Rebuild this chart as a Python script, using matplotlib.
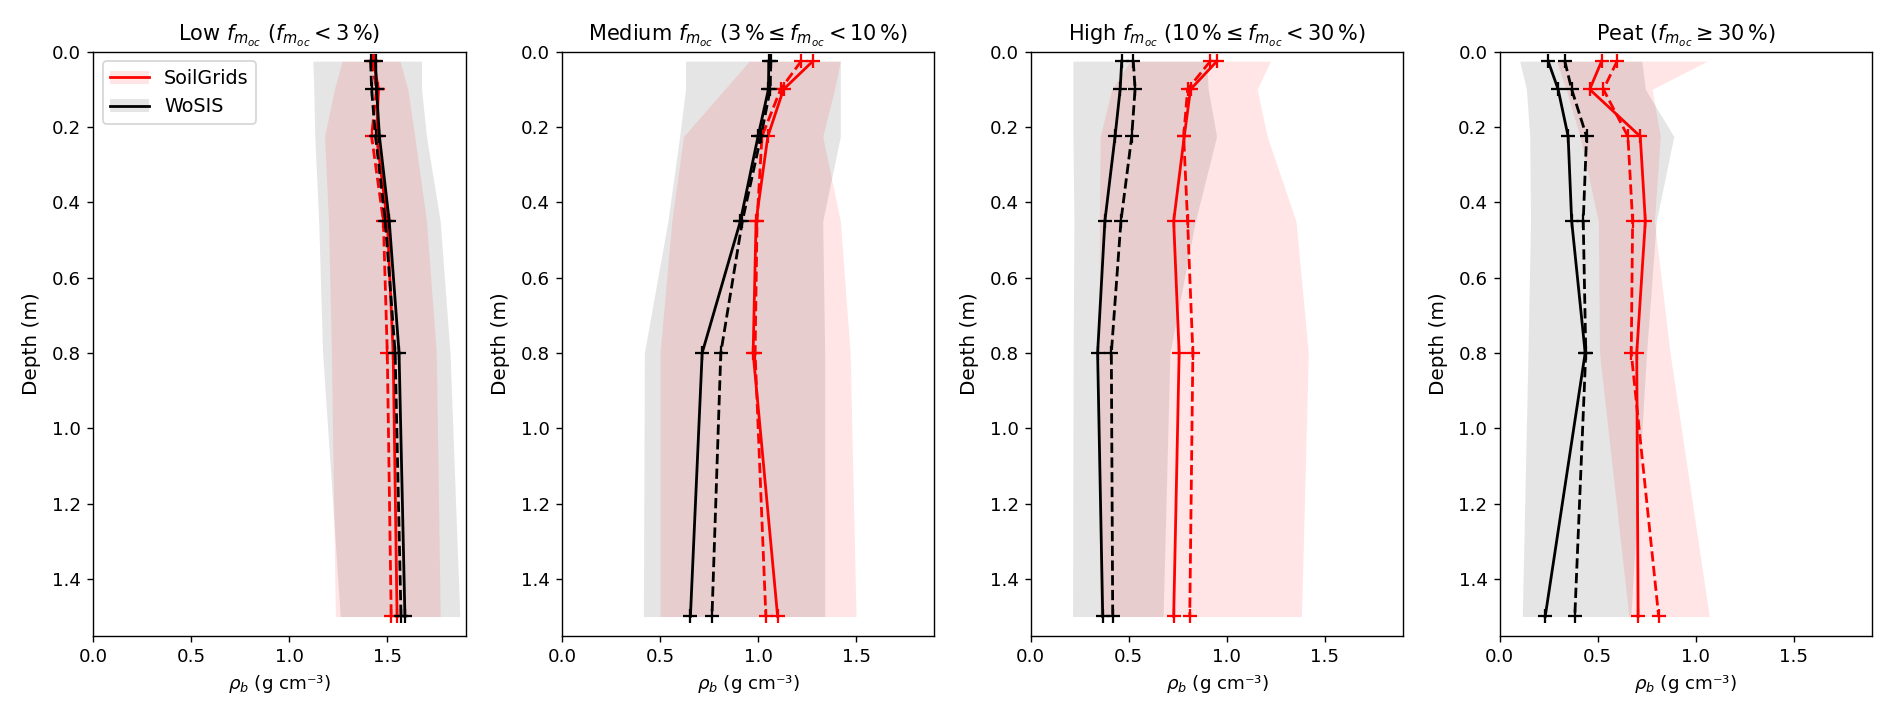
import matplotlib
matplotlib.use('Agg')
import matplotlib.pyplot as plt
from matplotlib.patches import Patch

# depth of the SoilGrids layer midpoints (m)
depth = [0.025, 0.1, 0.225, 0.45, 0.8, 1.5]

# Low f_moc
sg_low_solid = [1.43, 1.455, 1.445, 1.50, 1.53, 1.55]
sg_low_dashed = [1.42, 1.445, 1.42, 1.48, 1.50, 1.52]
wo_low_solid = [1.44, 1.445, 1.46, 1.51, 1.56, 1.59]
wo_low_dashed = [1.415, 1.42, 1.44, 1.49, 1.54, 1.57]
sg_low_lo = [1.27, 1.23, 1.18, 1.20, 1.215, 1.235]
sg_low_hi = [1.565, 1.605, 1.64, 1.70, 1.75, 1.77]
wo_low_lo = [1.12, 1.125, 1.13, 1.15, 1.17, 1.26]
wo_low_hi = [1.675, 1.675, 1.70, 1.77, 1.82, 1.87]

# Medium f_moc
sg_med_solid = [1.28, 1.13, 1.05, 0.99, 0.975, 1.10]
sg_med_dashed = [1.22, 1.115, 1.02, 0.995, 0.985, 1.04]
wo_med_solid = [1.055, 1.053, 1.0, 0.91, 0.715, 0.655]
wo_med_dashed = [1.065, 1.062, 1.015, 0.92, 0.81, 0.765]
sg_med_lo = [0.955, 0.83, 0.62, 0.56, 0.50, 0.50]
sg_med_hi = [1.42, 1.39, 1.33, 1.42, 1.47, 1.50]
wo_med_lo = [0.63, 0.63, 0.60, 0.54, 0.42, 0.415]
wo_med_hi = [1.42, 1.42, 1.42, 1.33, 1.34, 1.34]

# High f_moc
sg_high_solid = [0.95, 0.815, 0.783, 0.729, 0.757, 0.729]
sg_high_dashed = [0.916, 0.80, 0.78, 0.80, 0.827, 0.811]
wo_high_solid = [0.464, 0.456, 0.43, 0.378, 0.341, 0.367]
wo_high_dashed = [0.523, 0.532, 0.515, 0.46, 0.411, 0.418]
sg_high_lo = [0.507, 0.413, 0.354, 0.35, 0.35, 0.35]
sg_high_hi = [1.223, 1.155, 1.206, 1.353, 1.416, 1.381]
wo_high_lo = [0.215, 0.215, 0.215, 0.22, 0.216, 0.213]
wo_high_hi = [0.897, 0.905, 0.948, 0.84, 0.71, 0.675]

# Peat
sg_peat_solid = [0.521, 0.46, 0.718, 0.744, 0.70, 0.707]
sg_peat_dashed = [0.60, 0.53, 0.655, 0.679, 0.672, 0.812]
wo_peat_solid = [0.248, 0.299, 0.35, 0.368, 0.437, 0.233]
wo_peat_dashed = [0.333, 0.368, 0.444, 0.427, 0.44, 0.384]
sg_peat_lo = [0.29, 0.34, 0.41, 0.504, 0.51, 0.66]
sg_peat_hi = [1.06, 0.778, 0.82, 0.79, 0.87, 1.07]
wo_peat_lo = [0.103, 0.137, 0.154, 0.158, 0.145, 0.116]
wo_peat_hi = [0.726, 0.744, 0.889, 0.80, 0.75, 0.67]

titles = [
    r'Low $f_{m_{oc}}$ ($f_{m_{oc}} < 3\,\%$)',
    r'Medium $f_{m_{oc}}$ ($3\,\% \leq f_{m_{oc}} < 10\,\%$)',
    r'High $f_{m_{oc}}$ ($10\,\% \leq f_{m_{oc}} < 30\,\%$)',
    r'Peat ($f_{m_{oc}} \geq 30\,\%$)',
]


def draw_panel(ax, sg, wo):
    sg_solid, sg_dashed, sg_lo, sg_hi = sg
    wo_solid, wo_dashed, wo_lo, wo_hi = wo
    ax.fill_betweenx(depth, wo_lo, wo_hi, color='grey', alpha=0.2, lw=0)
    ax.fill_betweenx(depth, sg_lo, sg_hi, color='red', alpha=0.1, lw=0)
    kw = dict(marker='+', ms=8, mew=1.3, lw=1.6)
    ax.plot(sg_solid, depth, '-', color='red', **kw)
    ax.plot(sg_dashed, depth, '--', color='red', **kw)
    ax.plot(wo_solid, depth, '-', color='black', **kw)
    ax.plot(wo_dashed, depth, '--', color='black', **kw)
    ax.set_xlim(0, 1.9)
    ax.set_ylim(1.551, 0)
    ax.set_xticks([0.0, 0.5, 1.0, 1.5])
    ax.set_yticks([0.0, 0.2, 0.4, 0.6, 0.8, 1.0, 1.2, 1.4])
    ax.tick_params(labelsize=10.5)
    ax.set_ylabel('Depth (m)', fontsize=11.5, labelpad=6)
    ax.set_xlabel(r'$\rho_b$ (g cm⁻³)', fontsize=10.5)


def main():
    plt.rcParams['font.size'] = 10
    fig, axes = plt.subplots(1, 4, figsize=(15.136, 5.736), dpi=125)
    fig.subplots_adjust(left=0.0493, right=0.9894, top=0.9279, bottom=0.1134, wspace=0.2587)

    panels = [
        ((sg_low_solid, sg_low_dashed, sg_low_lo, sg_low_hi),
         (wo_low_solid, wo_low_dashed, wo_low_lo, wo_low_hi)),
        ((sg_med_solid, sg_med_dashed, sg_med_lo, sg_med_hi),
         (wo_med_solid, wo_med_dashed, wo_med_lo, wo_med_hi)),
        ((sg_high_solid, sg_high_dashed, sg_high_lo, sg_high_hi),
         (wo_high_solid, wo_high_dashed, wo_high_lo, wo_high_hi)),
        ((sg_peat_solid, sg_peat_dashed, sg_peat_lo, sg_peat_hi),
         (wo_peat_solid, wo_peat_dashed, wo_peat_lo, wo_peat_hi)),
    ]
    for ax, (sg, wo), title in zip(axes, panels, titles):
        draw_panel(ax, sg, wo)
        ax.set_title(title, fontsize=12)

    # legend: line on top of its shaded band
    sg_handle = (Patch(color='red', alpha=0.1, lw=0), plt.Line2D([], [], color='red', lw=1.6))
    wo_handle = (Patch(color='grey', alpha=0.2, lw=0), plt.Line2D([], [], color='black', lw=1.6))
    axes[0].legend([sg_handle, wo_handle], ['SoilGrids', 'WoSIS'], loc='upper left', fontsize=11)

    fig.savefig('out.png', dpi=125)


if __name__ == '__main__':
    main()
